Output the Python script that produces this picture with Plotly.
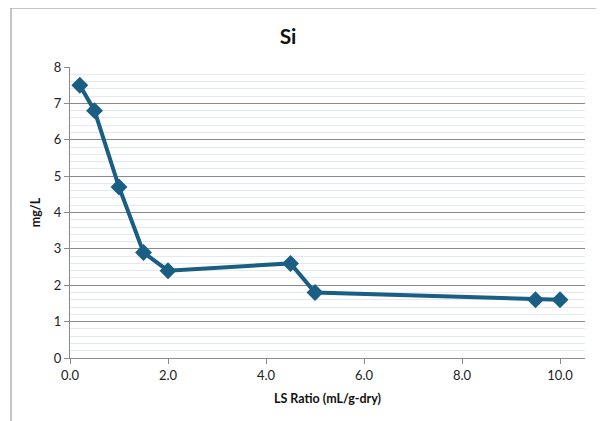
import plotly.graph_objects as go

ls_ratio = [0.2, 0.5, 1.0, 1.5, 2.0, 4.5, 5.0, 9.5, 10.0]
si_mg_l = [7.5, 6.8, 4.7, 2.9, 2.4, 2.6, 1.8, 1.6, 1.6]

title_text = "Si"
x_title = "LS Ratio (mL/g-dry)"
y_title = "mg/L"

FONT = "Lato, Carlito, 'Liberation Sans', sans-serif"
LINE_COLOR = "#1B5E84"
AXIS_GRAY = "#8A8A8A"

# page body has an 8px margin, so the figure is offset by (8, 8)
OFF = 8
W, H = 604 - OFF, 421 - OFF
L, R, T, B = 70 - OFF, 19, 67 - OFF, 63
pw, ph = W - L - R, H - T - B

def px(xp):
    return (xp - OFF - L) / pw

def py(yp):
    return (H - B - (yp - OFF)) / ph

fig = go.Figure()
fig.add_trace(go.Scatter(
    x=ls_ratio, y=si_mg_l, mode="lines+markers",
    line=dict(color=LINE_COLOR, width=4),
    marker=dict(symbol="diamond", size=13, color=LINE_COLOR),
    showlegend=False,
))

fig.update_layout(
    width=W, height=H,
    margin=dict(l=L, r=R, t=T, b=B, autoexpand=False),
    paper_bgcolor="white", plot_bgcolor="white",
    font=dict(family=FONT, size=13, color="#222222"),
    title=dict(text="<b>%s</b>" % title_text, x=px(312), xanchor="center",
               y=1 - (37 - OFF) / H, yanchor="middle", font=dict(size=21, color="#111111")),
    xaxis=dict(
        range=[0, 10.51], dtick=2, tick0=0, tickformat=".1f",
        showgrid=False, showline=True, linecolor=AXIS_GRAY, linewidth=1,
        ticks="outside", ticklen=5, tickcolor=AXIS_GRAY, automargin=False,
        tickfont=dict(size=13, color="#222222"),
        title=dict(text="<b>%s</b>" % x_title, font=dict(size=12.5, color="#111111"), standoff=12),
        zeroline=False,
    ),
    yaxis=dict(
        range=[0, 8], dtick=1, tick0=0,
        showgrid=True, gridcolor=AXIS_GRAY, gridwidth=1,
        showline=True, linecolor=AXIS_GRAY, linewidth=1,
        ticks="outside", ticklen=5, tickcolor=AXIS_GRAY, automargin=False,
        tickfont=dict(size=13, color="#222222"),
        title=dict(text="<b>%s</b>" % y_title, font=dict(size=12.5, color="#111111"), standoff=10),
        zeroline=False,
        minor=dict(dtick=0.2, showgrid=True, gridcolor="#E3E9EE", gridwidth=1, ticks=""),
    ),
)

# outer chart border (partial, as in the reference crop)
fig.add_shape(type="path", xref="paper", yref="paper",
              path="M %f %f L %f %f L %f %f" % (px(11), py(430), px(11), py(8), px(620), py(8)),
              line=dict(color="#8C8C8C", width=1))

fig.write_html("out.html")
